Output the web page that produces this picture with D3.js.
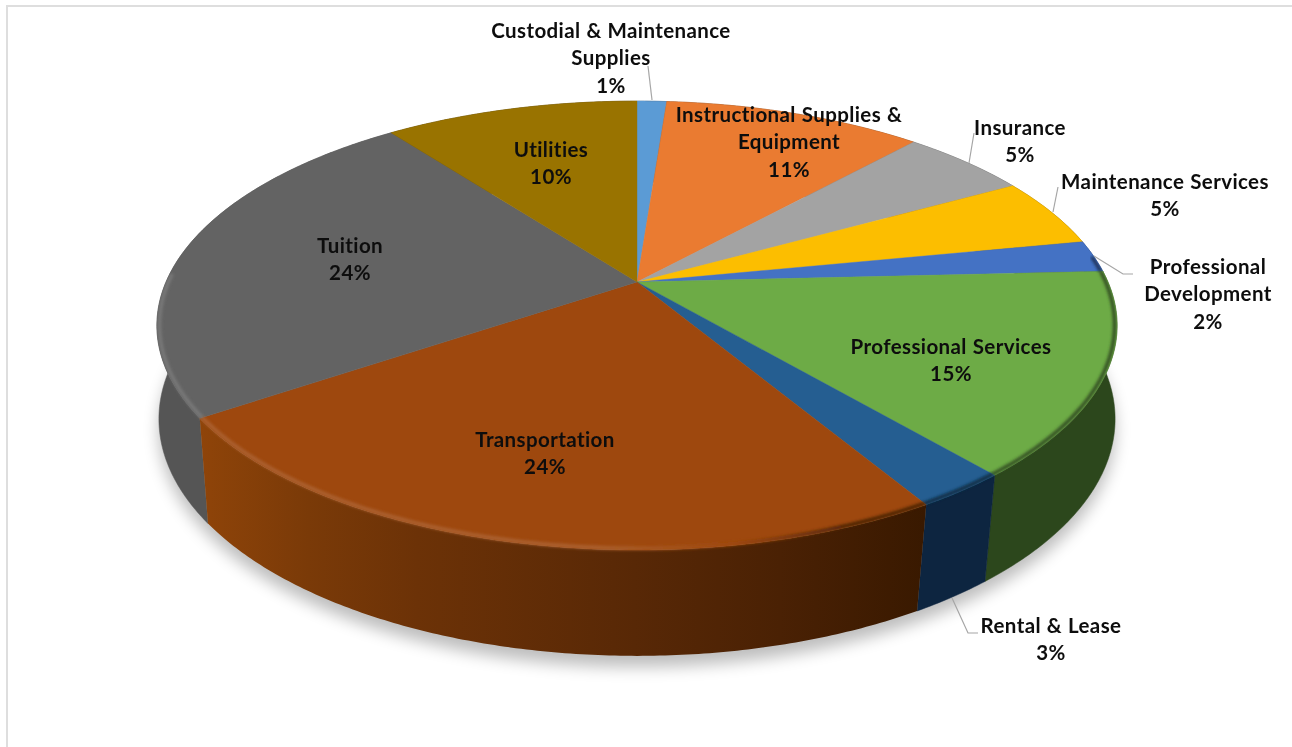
<!DOCTYPE html>
<html><head><meta charset="utf-8">
<script src="https://cdn.jsdelivr.net/npm/d3@7"></script>
<style>html,body{margin:0;padding:0;background:#fff;overflow:hidden}svg{display:block}
text{font-family:Lato,"Noto Sans",sans-serif;font-weight:700;font-size:20.5px;letter-spacing:.4px;fill:#0d0d0d;text-anchor:middle;word-spacing:.5px}</style>
</head><body>
<script>
const categories=["Custodial & Maintenance Supplies","Instructional Supplies & Equipment","Insurance","Maintenance Services","Professional Development","Professional Services","Rental & Lease","Transportation","Tuition","Utilities"];
const shares=[1.2,10.52,5.18,5.0,2.3,14.6,2.65,24.05,24.2,10.3];
const topColors=["#5b9bd5","#ea7b31","#a3a3a3","#fcbe00","#4472c4","#6dab46","#255e91","#9e480e","#636363","#997300"];
const wallColors=["#2e4e6b","#773e18","#535353","#806000","#223962","#2c471c","#0d2540","#6e3207","#555555","#4c3900"];
// label layout: wrapped lines, centre x, first baseline y
const labelLines=[["Custodial & Maintenance","Supplies"],["Instructional Supplies &","Equipment"],["Insurance"],["Maintenance Services"],["Professional","Development"],["Professional Services"],["Rental & Lease"],["Transportation"],["Tuition"],["Utilities"]];
const labelX=[611,789,1020,1165,1208,951,1051,545,350,551];
const labelY=[37.5,121.5,134.5,188.5,273.5,353.5,632.5,446.5,252.5,156.5];
const leaders=[[[648,66],[652,100]],[],[[974,133],[969,163]],[[1058,187],[1053,212]],[[1094,256],[1123,274],[1133,274]],[],[[952,598],[968,633],[978,633]],[],[],[]];

const W=1292,H=747,K=0.194;
const svg=d3.select("body").append("svg").attr("width",W).attr("height",H);
const defs=svg.append("defs");
const blur=(id,s)=>defs.append("filter").attr("id",id).attr("x","-10%").attr("y","-10%").attr("width","120%").attr("height","120%").append("feGaussianBlur").attr("stdDeviation",s);
blur("shadow",8);blur("rim",1.7);blur("soft",0.45);

// frame
svg.append("path").attr("d",`M7 ${H}V6H${W}`).attr("fill","none").attr("stroke","#dedede").attr("stroke-width",2);

// perspective scales for the top and the bottom disc
const topX=d3.scaleLinear().domain([0,1]).range([637,1108]);
const topY=d3.scaleLinear().domain([0,1]).range([282,498]);
const botX=d3.scaleLinear().domain([0,1]).range([637,1106]);
const botY=d3.scaleLinear().domain([0,1]).range([373,601]);
const proj=(sx,sy,r=1)=>a=>{const x=r*Math.sin(a),y=-r*Math.cos(a),d=1-K*y;return [sx(x/d),sy(y/d)];};
const pTop=proj(topX,topY);
const pBotRaw=proj(botX,botY);
const pBot=a=>pBotRaw(a+0.034*Math.sin(a)); // seams lean toward the viewer on the lower edge
const line=d3.line();
const samples=(a0,a1)=>{const n=Math.max(2,Math.ceil((a1-a0)/0.01));return d3.range(n+1).map(i=>a0+(a1-a0)*i/n);};

const arcs=d3.pie().sort(null).value(d=>d)(shares);

// ground shadow
const whole=samples(0,2*Math.PI);
svg.append("path").attr("d",line(whole.map(pBot))+"Z").attr("transform","translate(0,11)").attr("fill","#000").attr("opacity",.26).attr("filter","url(#shadow)");

// side walls, far ones first
const gTrans=defs.append("linearGradient").attr("id","wall7").attr("gradientUnits","userSpaceOnUse").attr("x1",200).attr("x2",925).attr("y1",0).attr("y2",0);
[[0,"#8f4409"],[.15,"#7a3a08"],[.3,"#6c3207"],[.6,"#582806"],[.8,"#4a2104"],[1,"#391900"]].forEach(s=>gTrans.append("stop").attr("offset",s[0]).attr("stop-color",s[1]));
const wallOrder=arcs.map((a,i)=>({a,i})).sort((p,q)=>Math.abs(Math.PI-(p.a.startAngle+p.a.endAngle)/2)<Math.abs(Math.PI-(q.a.startAngle+q.a.endAngle)/2)?1:-1);
const wallPath=o=>{const s=samples(o.a.startAngle,o.a.endAngle);return line(s.map(pTop).concat(s.slice().reverse().map(pBot)))+"Z";};
svg.append("g").selectAll("path").data(wallOrder).join("path")
  .attr("d",wallPath)
  .attr("fill",o=>o.i===7?"url(#wall7)":wallColors[o.i])
  .attr("stroke",o=>o.i===7?"none":wallColors[o.i]).attr("stroke-width",.5);

// top faces
const apex=[topX(0),topY(0)];
const clip=defs.append("clipPath").attr("id","pieClip");
clip.append("path").attr("d",line(whole.map(pTop))+"Z");
wallOrder.forEach(o=>clip.append("path").attr("d",wallPath(o)));
svg.append("g").selectAll("path").data(arcs).join("path")
  .attr("d",(a)=>line([apex].concat(samples(a.startAngle,a.endAngle).map(pTop)))+"Z")
  .attr("fill",(a,i)=>topColors[i]).attr("stroke",(a,i)=>topColors[i]).attr("stroke-width",.4);

// bevel along the rim of the face: lit on the left, shaded on the right
const rimG=svg.append("g").attr("clip-path","url(#pieClip)");
const rimGrad=(i,c)=>{const g=defs.append("linearGradient").attr("id","rim"+i).attr("gradientUnits","userSpaceOnUse").attr("x1",155).attr("x2",1117).attr("y1",0).attr("y2",0);
  const light=d3.interpolateRgb(c,"#fff")(.14),dark=d3.interpolateRgb(c,"#000")(.55);
  [[0,light],[.46,light],[.6,c],[.72,dark],[1,dark]].forEach(s=>g.append("stop").attr("offset",s[0]).attr("stop-color",s[1]));};
topColors.forEach((c,i)=>rimGrad(i,c));
const pInner=proj(topX,topY,0.995);
const RIM_FROM=1.45,RIM_TO=4.75;
rimG.selectAll("path").data(arcs.filter(a=>a.endAngle>RIM_FROM&&a.startAngle<RIM_TO)).join("path")
  .attr("d",a=>line(samples(Math.max(a.startAngle,RIM_FROM),Math.min(a.endAngle,RIM_TO)).map(pInner)))
  .attr("fill","none").attr("stroke",a=>`url(#rim${a.index})`).attr("stroke-width",3.5).attr("filter","url(#rim)");

// leader lines
svg.append("g").selectAll("path").data(leaders.filter(l=>l.length)).join("path")
  .attr("d",l=>line(l)).attr("fill","none").attr("stroke","#a6a6a6").attr("stroke-width",1.2);

// labels
const pct=d3.format(".0%"),total=d3.sum(shares);
const tg=svg.append("g").attr("filter","url(#soft)");
categories.forEach((c,i)=>{
  labelLines[i].concat([pct(shares[i]/total)]).forEach((t,j)=>{
    tg.append("text").attr("x",labelX[i]).attr("y",labelY[i]+j*27.7).text(t);
  });
});
</script>
</body></html>
